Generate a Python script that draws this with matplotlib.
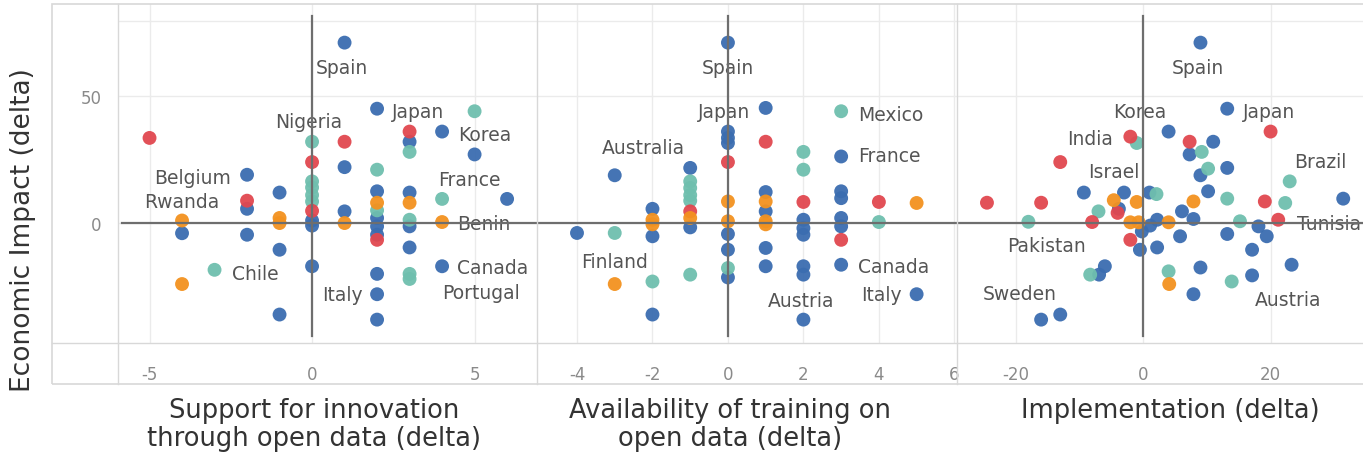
import matplotlib.pyplot as plt
from matplotlib.lines import Line2D
from matplotlib.patches import Rectangle

# colour groups: b = blue, t = teal, r = red, o = orange
colors = {"b": "#3b6db0", "t": "#6fbfae", "r": "#e1474f", "o": "#f3921f"}

# Panel 1: Support for innovation through open data
p1_x = [1, 2, 4, 3, 5, 1, -2, -1, 2, 3, -2, 6, 1, 0, 0, -4, -2, 2, 2, 2, 3, 3, -1, 0, 4, 2, 2, -1, 2,
        5, 3, 0, 2, 0, 0, 0, 0, 4, 2, 3, -3, 3, 3,
        -5, 3, 1, 0, -2, 0, 2,
        2, 3, -4, -1, -1, 1, 4, -4]
p1_y = [71, 45, 36, 32, 27, 22, 19, 12, 12.5, 12, 5.6, 9.5, 4.6, 1, -1, -4, -4.6, 2, -1.3, -4.6, -1.3, -9.6, -10.5, -17, -17, -20, -28, -36, -38,
        44, 28, 32, 21, 16.4, 14, 11, 8.5, 9.5, 5, 1.3, -18.4, -20, -22,
        33.5, 36, 32, 24, 8.8, 4.8, -6.6,
        8, 8, 1, 2, 0, 0, 0.4, -24]
p1_c = ["b"] * 29 + ["t"] * 14 + ["r"] * 7 + ["o"] * 8
p1_names = ["Spain", "Nigeria", "Japan", "Korea", "Belgium", "Rwanda", "France", "Benin",
            "Chile", "Italy", "Canada", "Portugal"]
p1_lx = [0.92, -0.1, 2.45, 4.5, -2.5, -2.85, 4.85, 4.45, -2.45, 1.55, 4.45, 4.0]
p1_ly = [61.4, 40, 44, 35, 18, 8.3, 17.3, 0, -19.7, -28.3, -17.3, -27.2]
p1_ha = ["center", "center", "left", "left", "right", "right", "center", "left",
         "left", "right", "left", "left"]

# Panel 2: Availability of training on open data
p2_x = [0, 1, 0, 0, 0, -3, -1, 3, 1, 1, 3, 3, -2, -1, -2, -4, 0, 0, 0, 2, 2, 2, 3, 3, 1, 1, 2, 2, 3, 5, -2, 2,
        3, 2, 2, -1, -1, -1, -1, 4, -3, 0, -1, -2,
        0, 1, -1, 2, 4, 3,
        0, 0, -1, -2, -2, 1, 1, 1, 5, -3]
p2_y = [71, 45.3, 36, 33.5, 31.5, 18.8, 21.7, 26.2, 12.2, 4.6, 12.5, 9.8, 5.6, -1.7, -5.2, -3.9, -4.3, -10.5, -21.4,
        1.3, -2, -4.6, 2, -1.3, -9.8, -17, -17, -20.3, -16.4, -28, -36, -38,
        44, 28, 21, 16.4, 13.8, 11, 8.8, 0.4, -3.9, -17.7, -20.3, -23,
        24, 32, 4.6, 8.3, 8.3, -6.6,
        8.5, 0.7, 2, 1.3, -0.5, 8.5, 0.7, -0.5, 7.9, -24]
p2_c = ["b"] * 32 + ["t"] * 12 + ["r"] * 6 + ["o"] * 10
p2_names = ["Spain", "Japan", "Mexico", "France", "Australia", "Finland", "Canada", "Italy", "Austria"]
p2_lx = [0, 0.58, 3.44, 3.44, -2.25, -3.0, 3.44, 4.6, 1.95]
p2_ly = [61.4, 43.8, 42.9, 26.5, 29.8, -15.2, -17.2, -28.3, -30.3]
p2_ha = ["center", "right", "left", "left", "center", "center", "left", "right", "center"]

# Panel 3: Implementation
p3_x = [9, 13.2, 4, 11, 7.3, 13.2, 9, 10.2, 31.4, -9.3, -3, 1, -3.8, 6.1, 7.9, 2.2, 1.1, -0.2, 18.1, 19.4,
        5.8, 13.2, 2.2, -0.5, 17.1, 23.3, 9, 17.1, -6, -6.9, 7.9, -16, -13,
        -1, 9.2, 10.2, 23, 2.1, 13.2, 22.3, -7, -18, 15.2, 4, -8.3, 13.9,
        -2, 20, 7.3, -13, -24.5, -16, 19.1, -4, -8, 21.2, -2,
        7.9, -4.6, -1, -2, -0.7, 4, 4.1]
p3_y = [71, 45, 36, 32, 27, 21.7, 18.8, 12.5, 9.6, 12, 12, 12, 5.6, 4.6, 1.6, 1.3, -1, -3.3, -1.3, -5.2,
        -5.2, -4.3, -9.6, -10.5, -10.5, -16.4, -17.5, -20.6, -17, -20.3, -28, -38, -36,
        31.5, 28, 21.4, 16.4, 11.4, 9.6, 7.9, 4.6, 0.5, 0.7, -19, -20.3, -23,
        34, 36, 32, 24, 8, 8, 8.5, 4, 0.4, 1.3, -6.6,
        8.5, 9, 8.3, 0.3, 0.3, 0.3, -24]
p3_c = ["b"] * 33 + ["t"] * 13 + ["r"] * 11 + ["o"] * 7
p3_names = ["Spain", "Korea", "Japan", "India", "Israel", "Brazil", "Tunisia", "Pakistan", "Sweden", "Austria"]
p3_lx = [8.6, -0.5, 15.7, -4.75, -4.66, 27.8, 24.1, -15.1, -19.3, 22.8]
p3_ly = [61.4, 44, 43.8, 33.3, 20.2, 24.3, 0, -8.9, -27.6, -30.2]
p3_ha = ["center", "center", "left", "right", "center", "center", "left", "center", "center", "center"]

titles = ["Support for innovation\nthrough open data (delta)",
          "Availability of training on\nopen data (delta)",
          "Implementation (delta)"]
xticks = [[-5, 0, 5], [-4, -2, 0, 2, 4, 6], [-20, 0, 20]]
xlims = [(-5.97, 6.92), (-5.06, 6.07), (-29.2, 36.7)]
ylim = (-47.2, 86.2)

W, H = 1363, 460
fig = plt.figure(figsize=(W / 100, H / 100), dpi=100)

grid_c = "#ebebeb"
frame_c = "#d8d8d8"
zero_c = "#6e6e6e"
lab_c = "#555555"

bounds = [(118, 537), (537, 957), (957, 1377)]
title_cx = [314, 730, 1170]
panels = [(p1_x, p1_y, p1_c, p1_names, p1_lx, p1_ly, p1_ha),
          (p2_x, p2_y, p2_c, p2_names, p2_lx, p2_ly, p2_ha),
          (p3_x, p3_y, p3_c, p3_names, p3_lx, p3_ly, p3_ha)]

for i, (x, y, c, names, lx, ly, ha) in enumerate(panels):
    l, r = bounds[i]
    ax = fig.add_axes([l / W, 1 - 344 / H, (r - l) / W, 339 / H])
    ax.set_xlim(xlims[i])
    ax.set_ylim(ylim)
    for s in ax.spines.values():
        s.set_visible(False)
    ax.set_xticks(xticks[i])
    ax.set_xticklabels([str(t) for t in xticks[i]])
    ax.set_yticks([0, 50])
    ax.tick_params(length=0, labelsize=12, labelcolor="#8a8a8a", pad=16)
    ax.tick_params(axis="y", pad=12)
    if i > 0:
        ax.tick_params(axis="y", labelleft=False)
    ax.grid(True, color=grid_c, lw=1)
    ax.set_axisbelow(True)
    ax.axhline(79.5, color=grid_c, lw=1, zorder=0)

    ax.scatter(x, y, s=100, c=[colors[k] for k in c], edgecolors="none", alpha=0.95, zorder=3)
    for n, tx, ty, h in zip(names, lx, ly, ha):
        ax.text(tx, ty, n, ha=h, va="center", fontsize=13.5, color=lab_c, zorder=4, clip_on=True)

    ax.axhline(0, color=zero_c, lw=1.6, zorder=5, xmin=0.01 if i == 0 else 0)
    ax.axvline(0, color=zero_c, lw=1.6, zorder=5,
               ymin=(-44.5 - ylim[0]) / (ylim[1] - ylim[0]),
               ymax=(81.5 - ylim[0]) / (ylim[1] - ylim[0]))

    fig.text(title_cx[i] / W, 1 - 398 / H, titles[i], ha="center", va="top",
             fontsize=18.5, color="#333333", linespacing=1.08)

# outer frame and panel separators
fig.patches.append(Rectangle((52 / W, 1 - 385 / H), 1.2, 380 / H, transform=fig.transFigure,
                             fill=False, edgecolor=frame_c, lw=1.2))
for px in [118, 537, 957]:
    fig.lines.append(Line2D([px / W, px / W], [1 - 385 / H, 1 - 5 / H], transform=fig.transFigure,
                            color=frame_c, lw=1))
fig.lines.append(Line2D([52 / W, 1], [1 - 344 / H, 1 - 344 / H], transform=fig.transFigure,
                        color=frame_c, lw=1))

fig.text(23 / W, 1 - 230 / H, "Economic Impact (delta)", rotation=90, ha="center", va="center",
         fontsize=19, color="#333333")

fig.savefig("out.png", dpi=100)
